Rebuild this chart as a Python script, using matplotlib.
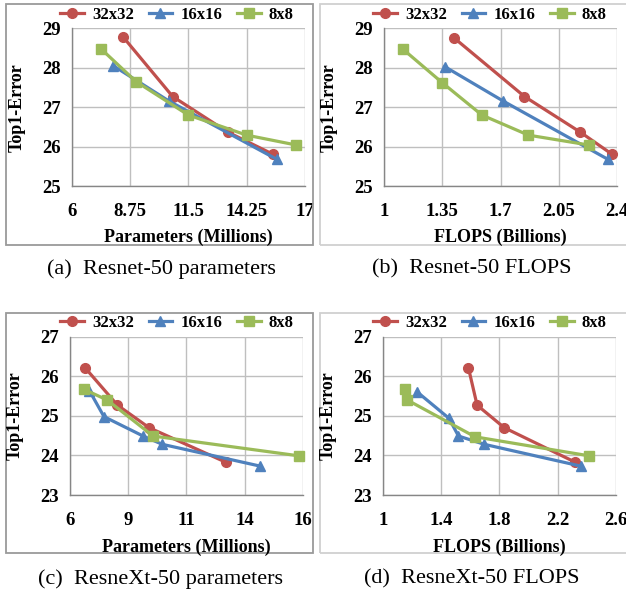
import matplotlib
matplotlib.use("Agg")
import matplotlib.pyplot as plt
from matplotlib.patches import Rectangle

W, H = 626, 592
DPI = 100

# ---------------- data ----------------
series_names = ["32x32", "16x16", "8x8"]

# (a) Resnet-50 parameters
a_x32 = [8.44, 10.76, 13.35, 15.51]
a_y32 = [28.77, 27.27, 26.37, 25.80]
a_x16 = [7.96, 10.60, 15.66]
a_y16 = [28.05, 27.15, 25.68]
a_x8 = [7.38, 9.03, 11.50, 14.25, 16.58]
a_y8 = [28.48, 27.65, 26.80, 26.29, 26.04]

# (b) Resnet-50 FLOPS
b_x32 = [1.42, 1.844, 2.178, 2.372]
b_y32 = [28.76, 27.27, 26.37, 25.80]
b_x16 = [1.364, 1.718, 2.344]
b_y16 = [28.03, 27.15, 25.68]
b_x8 = [1.114, 1.35, 1.588, 1.868, 2.23]
b_y8 = [28.47, 27.62, 26.80, 26.29, 26.04]

# (c) ResneXt-50 parameters
c_x32 = [6.64, 8.04, 9.40, 12.69]
c_y32 = [26.22, 25.27, 24.70, 23.83]
c_x16 = [6.83, 7.46, 9.14, 9.97, 14.17]
c_y16 = [25.64, 24.98, 24.49, 24.28, 23.73]
c_x8 = [6.60, 7.60, 9.57, 15.83]
c_y8 = [25.67, 25.40, 24.49, 23.99]

# (d) ResneXt-50 FLOPS
d_x32 = [1.587, 1.647, 1.834, 2.321]
d_y32 = [26.22, 25.27, 24.70, 23.83]
d_x16 = [1.233, 1.453, 1.519, 1.697, 2.36]
d_y16 = [25.61, 24.94, 24.49, 24.28, 23.73]
d_x8 = [1.153, 1.167, 1.633, 2.417]
d_y8 = [25.67, 25.40, 24.47, 23.99]

a_xticks = [6, 8.75, 11.5, 14.25, 17]
a_xlabels = ["6", "8.75", "11.5", "14.25", "17"]
b_xticks = [1, 1.35, 1.7, 2.05, 2.4]
b_xlabels = ["1", "1.35", "1.7", "2.05", "2.4"]
c_xticks = [6, 8.5, 11, 13.5, 16]
c_xlabels = ["6", "9", "11", "14", "16"]
d_xticks = [1, 1.4, 1.8, 2.2, 2.6]
d_xlabels = ["1", "1.4", "1.8", "2.2", "2.6"]
top_yticks = [25, 26, 27, 28, 29]
bot_yticks = [23, 24, 25, 26, 27]

x_titles = ["Parameters (Millions)", "FLOPS (Billions)",
            "Parameters (Millions)", "FLOPS (Billions)"]
captions = ["(a)  Resnet-50 parameters", "(b)  Resnet-50 FLOPS",
            "(c)  ResneXt-50 parameters", "(d)  ResneXt-50 FLOPS"]

# ---------------- style ----------------
colors = ["#C0504D", "#4F81BD", "#9BBB59"]
markers = ["o", "^", "s"]
msizes = [7, 7.5, 7]
SERIF = ["Liberation Serif", "DejaVu Serif"]

fig = plt.figure(figsize=(W / DPI, H / DPI), dpi=DPI)
fig.patch.set_facecolor("white")


def fx(px):
    return px / W


def fy(py):
    return 1 - py / H


# panel frames
frames = [(6, 4, 313, 245, "#9A9A9A"), (320, 4, 640, 245, "#D0D0D0"),
          (6, 312.5, 313, 553, "#9A9A9A"), (320, 312.5, 640, 553, "#D0D0D0")]
for x0, y0, x1, y1, c in frames:
    fig.patches.append(Rectangle((fx(x0), fy(y1)), fx(x1) - fx(x0), fy(y0) - fy(y1),
                                 transform=fig.transFigure, fill=False,
                                 edgecolor=c, lw=1.3, zorder=0))

panels = [
    dict(rect=(71.7, 28.3, 305, 186), xs=[a_x32, a_x16, a_x8], ys=[a_y32, a_y16, a_y8],
         xt=a_xticks, xl=a_xlabels, yt=top_yticks, leg=(177, 15), cap=(161, 269)),
    dict(rect=(384, 28.3, 617, 186), xs=[b_x32, b_x16, b_x8], ys=[b_y32, b_y16, b_y8],
         xt=b_xticks, xl=b_xlabels, yt=top_yticks, leg=(490, 15), cap=(472, 269)),
    dict(rect=(70, 336.7, 302.7, 495), xs=[c_x32, c_x16, c_x8], ys=[c_y32, c_y16, c_y8],
         xt=c_xticks, xl=c_xlabels, yt=bot_yticks, leg=(177, 322.7), cap=(160, 579)),
    dict(rect=(383, 336.7, 615.7, 495), xs=[d_x32, d_x16, d_x8], ys=[d_y32, d_y16, d_y8],
         xt=d_xticks, xl=d_xlabels, yt=bot_yticks, leg=(490, 322.7), cap=(472, 579)),
]

for i, p in enumerate(panels):
    l, t, r, b = p["rect"]
    ax = fig.add_axes([fx(l), fy(b), fx(r) - fx(l), fy(t) - fy(b)])
    ax.set_facecolor("white")
    handles = []
    for k in range(3):
        h, = ax.plot(p["xs"][k], p["ys"][k], color=colors[k], marker=markers[k],
                     markersize=msizes[k], lw=2.3, label=series_names[k],
                     clip_on=False, zorder=3)
        handles.append(h)
    ax.set_xlim(p["xt"][0], p["xt"][-1])
    ax.set_ylim(p["yt"][0], p["yt"][-1])
    ax.set_xticks(p["xt"])
    ax.set_xticklabels(p["xl"])
    ax.set_yticks(p["yt"])
    ax.set_yticklabels([str(v) for v in p["yt"]])
    ax.grid(True, color="#BFBFBF", lw=1.0, zorder=0)
    ax.set_axisbelow(True)
    for s in ["top", "right"]:
        ax.spines[s].set_visible(False)
    for s in ["left", "bottom"]:
        ax.spines[s].set_color("#868686")
        ax.spines[s].set_linewidth(1.0)
    ax.tick_params(length=0, labelsize=13.5)
    ax.tick_params(axis="x", pad=12)
    ax.tick_params(axis="y", pad=8)
    for lab in ax.get_xticklabels() + ax.get_yticklabels():
        lab.set_fontfamily(SERIF)
        lab.set_fontweight("bold")
    # axis titles
    xlab_y = 237 if i < 2 else 547
    fig.text(fx((l + r) / 2), fy(xlab_y), x_titles[i], ha="center", va="center",
             family=SERIF, weight="bold", fontsize=13)
    fig.text(fx(l - 55), fy((t + b) / 2), "Top1-Error", ha="center", va="center",
             rotation=90, family=SERIF, weight="bold", fontsize=13)
    # legend
    lx, ly = p["leg"]
    fig.legend(handles=handles, ncol=3, loc="center", bbox_to_anchor=(fx(lx), fy(ly)),
               bbox_transform=fig.transFigure, frameon=False,
               prop=dict(family=SERIF, weight="bold", size=12),
               handlelength=1.4, handletextpad=0.5, columnspacing=0.9,
               borderaxespad=0, borderpad=0)
    # caption
    cx, cy = p["cap"]
    fig.text(fx(cx), fy(cy), captions[i], ha="center", va="center",
             family=SERIF, fontsize=16)

fig.savefig("out.png", dpi=DPI, facecolor="white")
